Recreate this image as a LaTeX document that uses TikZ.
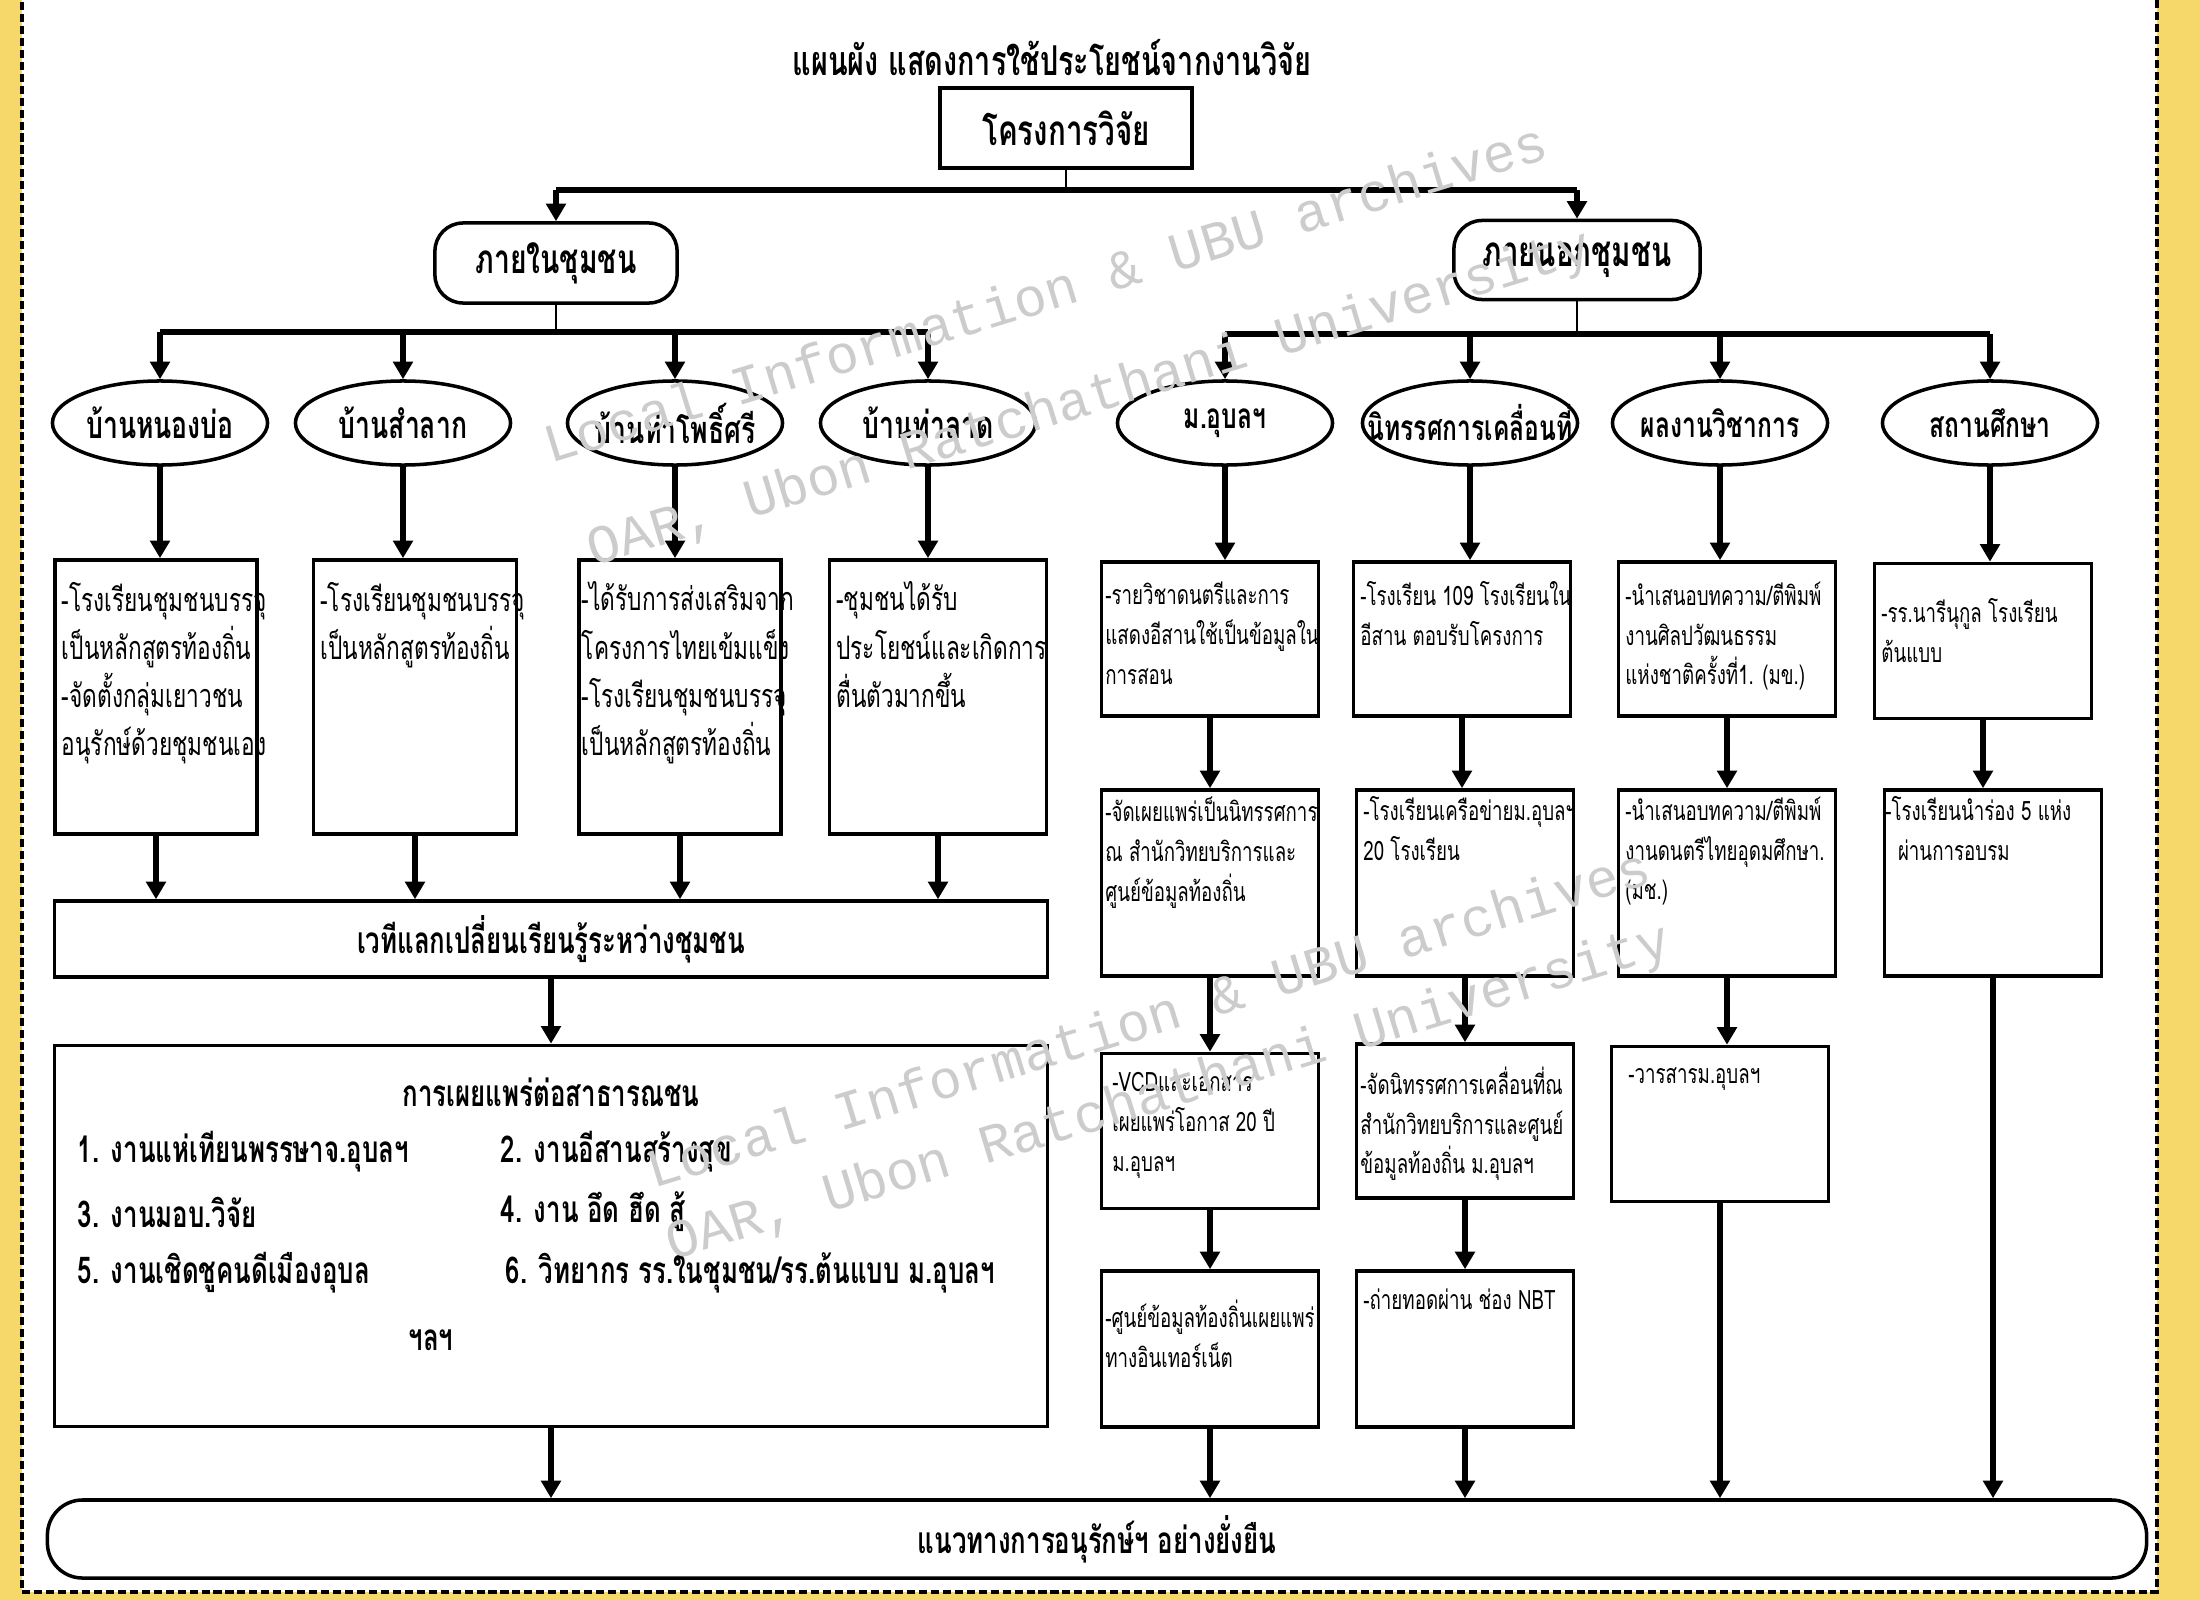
\documentclass[tikz,border=0pt]{standalone}
\usepackage{fontspec}
\usetikzlibrary{shapes.geometric,arrows.meta}
\newfontfamily\thai[Script=Thai,FakeStretch=0.7]{Loma}
\newfontfamily\wmark{Liberation Mono}
\definecolor{paper}{HTML}{F6D76A}
\begin{document}
\begin{tikzpicture}[x=0.01cm,y=-0.01cm,
  bigbox/.style={draw,line width=1pt,fill=white,inner sep=0pt,font=\thai\bfseries\fontsize{10.5}{12}\selectfont},
  oval/.style={ellipse,draw,line width=1pt,fill=white,minimum width=2.15cm,minimum height=0.84cm,inner sep=0pt},
  cell/.style={draw,line width=1pt,minimum width=2.17cm,inner sep=0pt},
  ltxt/.style={anchor=north west,align=left,inner sep=0pt,font=\thai\fontsize{9.2}{13.7}\selectfont},
  rtxt/.style={anchor=north west,align=left,inner sep=0pt,font=\thai\fontsize{7.6}{11.3}\selectfont},
  flow/.style={line width=1.5pt,-{Triangle[width=5.5pt,length=5pt]}},
  bar/.style={line width=1.8pt},
  stem/.style={line width=0.6pt},
  wm/.style={rotate=17,text=black!20,font=\wmark\fontsize{15.5}{18}\selectfont}
]
\useasboundingbox (0,0) rectangle (2200,1600);
% background and frame
\fill[paper] (0,0) rectangle (2200,1600);
\draw[fill=white,line width=0.9pt,dash pattern=on 2.3pt off 1.1pt] (22,-10) rectangle (2157,1592);

% Title and top levels
\node[font=\thai\bfseries\fontsize{11.7}{13}\selectfont] (title) at (1052,58) {แผนผัง แสดงการใช้ประโยชน์จากงานวิจัย};
\node[bigbox,minimum width=2.52cm,minimum height=0.8cm,font=\thai\bfseries\fontsize{12}{13}\selectfont] (proj) at (1066,128) {โครงการวิจัย};
\node[bigbox,rounded corners=8pt,minimum width=2.42cm,minimum height=0.8cm,font=\thai\bfseries\fontsize{11.5}{13}\selectfont] (inner) at (556,263) {ภายในชุมชน};
\node[bigbox,rounded corners=8pt,minimum width=2.46cm,minimum height=0.79cm,font=\thai\bfseries\fontsize{12}{13}\selectfont] (outer) at (1577,260) {ภายนอกชุมชน};

% Ellipses
\foreach \n/\x/\s/\t in {e1/160/10.8/บ้านหนองบ่อ,e2/403/10.8/บ้านสำลาก,e3/675/10.8/บ้านท่าโพธิ์ศรี,e4/928/10.8/บ้านท่าลาด,
  e5/1225/10/ม.อุบลฯ,e6/1470/10/นิทรรศการเคลื่อนที่,e7/1720/10/ผลงานวิชาการ,e8/1990/10/สถานศึกษา}
  \node[oval,font=\thai\bfseries\fontsize{\s}{12}\selectfont] (\n) at (\x,423) {\makebox[0pt]{\t}};

% --- Left: inside the community ---
\node[cell,minimum width=2.02cm,minimum height=2.74cm] (L1) at (156,697) {};
\node[cell,minimum width=2.03cm,minimum height=2.74cm] (L2) at (415,697) {};
\node[cell,minimum width=2.02cm,minimum height=2.74cm] (L3) at (680,697) {};
\node[cell,minimum width=2.17cm,minimum height=2.74cm] (L4) at (938,697) {};
\node[ltxt] (L1t) at ([shift={(8,23)}]L1.north west) {-โรงเรียนชุมชนบรรจุ\\เป็นหลักสูตรท้องถิ่น\\-จัดตั้งกลุ่มเยาวชน\\อนุรักษ์ด้วยชุมชนเอง};
\node[ltxt] (L2t) at ([shift={(8,23)}]L2.north west) {-โรงเรียนชุมชนบรรจุ\\เป็นหลักสูตรท้องถิ่น};
\node[ltxt] (L3t) at ([shift={(4,23)}]L3.north west) {-ได้รับการส่งเสริมจาก\\โครงการไทยเข้มแข็ง\\-โรงเรียนชุมชนบรรจุ\\เป็นหลักสูตรท้องถิ่น};
\node[ltxt] (L4t) at ([shift={(8,23)}]L4.north west) {-ชุมชนได้รับ\\ประโยชน์และเกิดการ\\ตื่นตัวมากขึ้น};

\node[bigbox,minimum width=9.92cm,minimum height=0.76cm] (vethi) at (551,939) {เวทีแลกเปลี่ยนเรียนรู้ระหว่างชุมชน};
\node[cell,minimum width=9.92cm,minimum height=3.81cm] (pub) at (551,1236) {};
\node[font=\thai\bfseries\fontsize{10.5}{12}\selectfont] (pubh) at (551,1092) {การเผยแพร่ต่อสาธารณชน};
\begin{scope}[every node/.style={anchor=west,inner sep=0pt,font=\thai\bfseries\fontsize{10.5}{12}\selectfont}]
\node (p1) at (77,1152) {1. งานแห่เทียนพรรษาจ.อุบลฯ};
\node (p2) at (500,1152) {2. งานอีสานสร้างสุข};
\node (p3) at (77,1212) {3. งานมอบ.วิจัย};
\node (p4) at (500,1212) {4. งาน อึด ฮึด สู้};
\node (p5) at (77,1273) {5. งานเชิดชูคนดีเมืองอุบล};
\node (p6) at (505,1273) {6. วิทยากร รร.ในชุมชน/รร.ต้นแบบ ม.อุบลฯ};
\end{scope}
\node[font=\thai\bfseries\fontsize{10.5}{12}\selectfont] (etc) at (431,1340) {ฯลฯ};

% --- Right: outside the community ---
% row 1
\node[cell,minimum height=1.54cm] (a1) at (1210,639) {};
\node[cell,minimum height=1.54cm] (b1) at (1462,639) {};
\node[cell,minimum height=1.54cm] (c1) at (1727,639) {};
\node[cell,minimum height=1.55cm] (d1) at (1983,641) {};
\node[rtxt] (a1t) at ([shift={(5,21)}]a1.north west) {-รายวิชาดนตรีและการ\\แสดงอีสานใช้เป็นข้อมูลใน\\การสอน};
\node[rtxt] (b1t) at ([shift={(8,21)}]b1.north west) {-โรงเรียน 109 โรงเรียนใน\\อีสาน ตอบรับโครงการ};
\node[rtxt] (c1t) at ([shift={(8,21)}]c1.north west) {-นำเสนอบทความ/ตีพิมพ์\\งานศิลปวัฒนธรรม\\แห่งชาติครั้งที่1. (มข.)};
\node[rtxt] (d1t) at ([shift={(8,36)}]d1.north west) {-รร.นารีนุกูล โรงเรียน\\ต้นแบบ};
% row 2
\node[cell,minimum height=1.86cm] (a2) at (1210,883) {};
\node[cell,minimum height=1.86cm] (b2) at (1465,883) {};
\node[cell,minimum height=1.86cm] (c2) at (1727,883) {};
\node[cell,minimum height=1.86cm] (d2) at (1993,883) {};
\node[rtxt] (a2t) at ([shift={(5,8)}]a2.north west) {-จัดเผยแพร่เป็นนิทรรศการ\\ณ สำนักวิทยบริการและ\\ศูนย์ข้อมูลท้องถิ่น};
\node[rtxt] (b2t) at ([shift={(8,8)}]b2.north west) {-โรงเรียนเครือข่ายม.อุบลฯ\\20 โรงเรียน};
\node[rtxt] (c2t) at ([shift={(8,8)}]c2.north west) {-นำเสนอบทความ/ตีพิมพ์\\งานดนตรีไทยอุดมศึกษา.\\(มช.)};
\node[rtxt] (d2t) at ([shift={(2,8)}]d2.north west) {-โรงเรียนนำร่อง 5 แห่ง\\\ \ ผ่านการอบรม};
% row 3
\node[cell,minimum height=1.55cm] (a3) at (1210,1131) {};
\node[cell,minimum height=1.54cm] (b3) at (1465,1121) {};
\node[cell,minimum height=1.55cm] (c3) at (1720,1124) {};
\node[rtxt] (a3t) at ([shift={(12,20)}]a3.north west) {-VCDและเอกสาร\\เผยแพร่โอกาส 20 ปี\\ม.อุบลฯ};
\node[rtxt] (b3t) at ([shift={(5,24)}]b3.north west) {-จัดนิทรรศการเคลื่อนที่ณ\\สำนักวิทยบริการและศูนย์\\ข้อมูลท้องถิ่น ม.อุบลฯ};
\node[rtxt] (c3t) at ([shift={(18,22)}]c3.north west) {-วารสารม.อุบลฯ};
% row 4
\node[cell,minimum height=1.56cm] (a4) at (1210,1349) {};
\node[cell,minimum height=1.56cm] (b4) at (1465,1349) {};
\node[rtxt] (a4t) at ([shift={(5,30)}]a4.north west) {-ศูนย์ข้อมูลท้องถิ่นเผยแพร่\\ทางอินเทอร์เน็ต};
\node[rtxt] (b4t) at ([shift={(8,19)}]b4.north west) {-ถ่ายทอดผ่าน ช่อง NBT};

% Bottom
\node[bigbox,rounded corners=10pt,minimum width=20.98cm,minimum height=0.78cm] (final) at (1097,1539) {แนวทางการอนุรักษ์ฯ อย่างยั่งยืน};

% Connectors
\draw[stem] (proj.south) -- ++(0,20) coordinate (j0);
\draw[bar] (j0 -| inner.north) -- (j0 -| outer.north);
\draw[flow] (j0 -| inner.north) -- (inner.north);
\draw[flow] (j0 -| outer.north) -- (outer.north);
\draw[stem] (inner.south) -- ++(0,27) coordinate (j1);
\draw[bar] (j1 -| e1.north) -- (j1 -| e4.north);
\draw[stem] (outer.south) -- ++(0,33) coordinate (j2);
\draw[bar] (j2 -| e5.north) -- (j2 -| e8.north);
\foreach \e in {e1,e2,e3,e4}
  \draw[flow] (j1 -| \e.north) -- (\e.north);
\foreach \e in {e5,e6,e7,e8}
  \draw[flow] (j2 -| \e.north) -- (\e.north);
\foreach \e/\b in {e1/L1,e2/L2,e3/L3,e4/L4,e5/a1,e6/b1,e7/c1,e8/d1}
  \draw[flow] (\e.south) -- (\e.south |- \b.north);
\foreach \b in {L1,L2,L3,L4}
  \draw[flow] (\b.south) -- (\b.south |- vethi.north);
\draw[flow] (vethi.south) -- (pub.north);
\foreach \p/\q in {a1/a2,b1/b2,c1/c2,d1/d2,a2/a3,b2/b3,c2/c3,a3/a4,b3/b4}
  \draw[flow] (\p.south) -- (\p.south |- \q.north);
\foreach \b in {pub,a4,b4,c3,d2}
  \draw[flow] (\b.south) -- (\b.south |- final.north);

% Watermark
\node[wm] (wm1) at (1045,292) {Local Information \& UBU archives};
\node[wm] (wm2) at (1090,400) {OAR, Ubon Ratchathani University};
\node[wm] (wm3) at (1148,1017) {Local Information \& UBU archives};
\node[wm] (wm4) at (1169,1094) {OAR, Ubon Ratchathani University};
\end{tikzpicture}
\end{document}
